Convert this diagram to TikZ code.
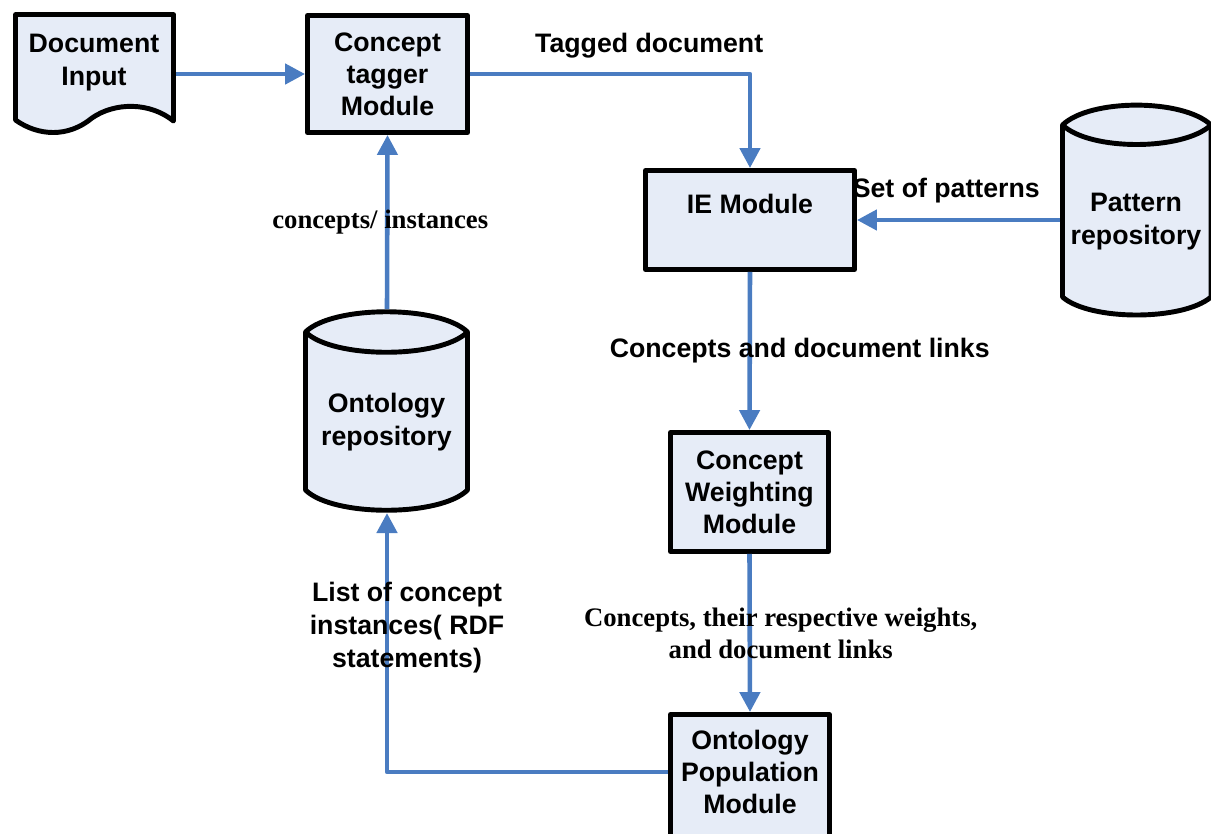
\documentclass[tikz,border=0pt]{standalone}
\usepackage{fontspec}
\setmainfont{Liberation Serif}
\setsansfont{Liberation Sans}
\usetikzlibrary{arrows.meta,positioning,calc}
\definecolor{boxfill}{HTML}{E6ECF7}
\definecolor{flowblue}{HTML}{4A7CC1}

\begin{document}
\begin{tikzpicture}[x=0.02cm, y=-0.02cm, line join=round,
  >={Triangle[length=0.4cm,width=0.4cm]},
  module/.style={draw, line width=2.8pt, fill=boxfill, align=center, inner sep=0pt,
    font=\sffamily\bfseries\fontsize{15.2}{18.2}\selectfont},
  outline/.style={draw, line width=2.8pt, fill=boxfill},
  intext/.style={align=center, font=\sffamily\bfseries\fontsize{15.2}{18.8}\selectfont},
  flow/.style={->, draw=flowblue, line width=2.6pt},
  tag/.style={align=center, text=black, font=\sffamily\bfseries\fontsize{15.2}{18.8}\selectfont},
  sertag/.style={align=center, text=black, font=\rmfamily\bfseries\fontsize{15.2}{18.2}\selectfont}]
  \useasboundingbox (0,0) rectangle (1211,833);

  % document, pattern and ontology outlines
  \filldraw[outline] (15.5,14.5) -- (173.5,14.5) -- (173.5,121)
    .. controls (150,102) and (115,102) .. (92,118)
    .. controls (68,138) and (38,136) .. (15.5,120) -- cycle;
  \filldraw[outline] (1062.5,125) .. controls (1090,98.5) and (1183,98.5) .. (1211,125)
    -- (1211,297) .. controls (1183,321) and (1090,321) .. (1062.5,297) -- cycle;
  \draw[outline, fill=none] (1062.5,125) .. controls (1090,151) and (1183,151) .. (1211,125);
  \filldraw[outline] (305.5,332) .. controls (333,305) and (440,305) .. (467.5,332)
    -- (467.5,490) .. controls (440,517) and (333,517) .. (305.5,490) -- cycle;
  \draw[outline, fill=none] (305.5,332) .. controls (333,359) and (440,359) .. (467.5,332);

  \node[intext] (doc) at (94,63) {Document\\Input};
  \node[intext] (pattern) at (1136,222) {Pattern\\repository};
  \node[intext] (onto) at (386.5,422.5) {Ontology\\repository};
  \node[module, minimum width=3.2cm, minimum height=2.34cm] (tagger) at (387.5,74) {Concept\\tagger\\Module};
  \node[module, minimum width=4.18cm, minimum height=1.98cm] (ie) at (750,220) {IE Module\\~};
  \node[module, minimum width=3.16cm, minimum height=2.38cm] (weight) at (749.5,492) {Concept\\Weighting\\Module};
  \node[module, minimum width=3.18cm, minimum height=2.94cm] (pop) at (750,788) {Ontology\\Population\\Module\\~};

  \coordinate (docout) at (176,74);
  \coordinate (patin) at (1060,220);
  \coordinate (ontotop) at (387,309);
  \coordinate (ontobot) at (387,513);

  \draw[flow] (docout) -- (tagger.west);
  \draw[flow] (tagger.east) -| (ie.north) node[tag, pos=0.32, yshift=0.57cm] {Tagged document};
  \draw[flow] (patin) -- (ie.east) node[tag, pos=0.56, yshift=0.59cm] {Set of patterns};
  \draw[flow] (ontotop) -- (tagger.south) node[sertag, midway, xshift=-0.14cm] {concepts/ instances};
  \draw[flow] (ie.south) -- (weight.north) node[tag, midway, xshift=1cm] {Concepts and document links};
  \draw[flow] (weight.south) -- (pop.north) node[sertag, midway, xshift=0.62cm] {Concepts, their respective weights,\\and document links};
  \draw[flow] ([yshift=0.32cm]pop.west) -| (ontobot) node[tag, pos=0.779, xshift=0.4cm] {List of concept\\instances( RDF\\statements)};
\end{tikzpicture}
\end{document}
